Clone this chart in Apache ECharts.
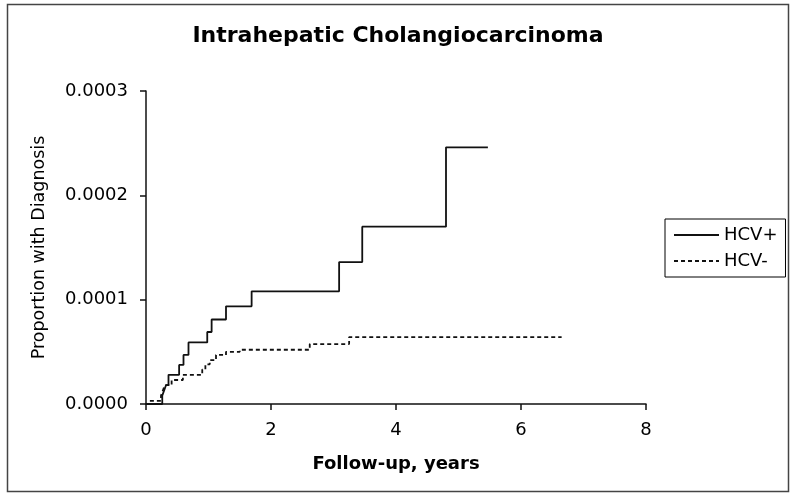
<!DOCTYPE html>
<html>
<head>
<meta charset="utf-8">
<script src="https://cdn.jsdelivr.net/npm/echarts@6/dist/echarts.min.js"></script>
<style>
html,body{margin:0;padding:0;background:#fff;}
#chart{width:796px;height:498px;}
</style>
</head>
<body>
<div id="chart"></div>
<script>
// Kaplan-Meier style step data (time in years, cumulative proportion)
const hcvPosTime  = [0, 0.26, 0.29, 0.32, 0.36, 0.53, 0.60, 0.68, 0.98, 1.05, 1.28, 1.69, 3.09, 3.46, 4.80, 5.47];
const hcvPosValue = [0, 0.000008, 0.000013, 0.000018, 0.000028, 0.0000375, 0.000047, 0.000059, 0.000069, 0.000081, 0.0000936, 0.000108, 0.000136, 0.000170, 0.000246, 0.000246];

const hcvNegTime  = [0, 0.05, 0.24, 0.27, 0.30, 0.41, 0.59, 0.90, 0.95, 1.02, 1.12, 1.28, 1.50, 2.62, 3.25, 6.65];
const hcvNegValue = [0, 0.000003, 0.000008, 0.000013, 0.000018, 0.000023, 0.000028, 0.000033, 0.000038, 0.000042, 0.000047, 0.000050, 0.000052, 0.0000574, 0.0000641, 0.0000641];

const seriesNames = ['HCV+', 'HCV-'];
const xTicks = [0, 2, 4, 6, 8];
const yTicks = [0, 0.0001, 0.0002, 0.0003];

const pair = (ts, vs) => ts.map((t, i) => [t, vs[i]]);

const chart = echarts.init(document.getElementById('chart'), null, {renderer: 'canvas'});
const font = 'DejaVu Sans';
chart.setOption({
  animation: false,
  backgroundColor: '#fff',
  title: {
    text: 'Intrahepatic Cholangiocarcinoma',
    left: 'center',
    top: 25,
    padding: 0,
    textStyle: {fontFamily: font, fontSize: 22, fontWeight: 'bold', color: '#000'}
  },
  graphic: [{
    type: 'rect',
    shape: {x: 7.5, y: 4.5, width: 781, height: 487},
    style: {fill: 'none', stroke: '#444', lineWidth: 1.5},
    silent: true, z: -1
  }],
  legend: {
    orient: 'vertical',
    left: 665,
    top: 219,
    padding: [7, 8, 7, 8],
    borderColor: '#000',
    borderWidth: 1,
    itemWidth: 45,
    itemHeight: 14,
    itemGap: 8,
    icon: 'inherit',
    itemStyle: {opacity: 0},
    data: seriesNames,
    textStyle: {fontFamily: font, fontSize: 18, color: '#000'}
  },
  grid: {left: 146, right: 150, top: 91, bottom: 94, containLabel: false},
  xAxis: {
    type: 'value',
    min: xTicks[0],
    max: xTicks[xTicks.length - 1],
    interval: 2,
    name: 'Follow-up, years',
    nameLocation: 'middle',
    nameGap: 51,
    nameTextStyle: {fontFamily: font, fontSize: 18, fontWeight: 'bold', color: '#000'},
    axisLine: {show: true, onZero: false, lineStyle: {color: '#111', width: 1.5}},
    axisTick: {show: true, length: 6, lineStyle: {color: '#111', width: 1.5}},
    axisLabel: {fontFamily: font, fontSize: 18, color: '#000', margin: 17},
    splitLine: {show: false}
  },
  yAxis: {
    type: 'value',
    min: yTicks[0],
    max: yTicks[yTicks.length - 1],
    interval: 0.0001,
    name: 'Proportion with Diagnosis',
    nameLocation: 'middle',
    nameGap: 98,
    nameTextStyle: {fontFamily: font, fontSize: 17.5, color: '#000'},
    axisLine: {show: true, lineStyle: {color: '#111', width: 1.5}},
    axisTick: {show: true, length: 6, lineStyle: {color: '#111', width: 1.5}},
    axisLabel: {fontFamily: font, fontSize: 18, color: '#000', margin: 18,
      formatter: v => v.toFixed(4)},
    splitLine: {show: false}
  },
  series: [
    {
      name: seriesNames[0],
      type: 'line',
      step: 'end',
      symbol: 'none',
      data: pair(hcvPosTime, hcvPosValue),
      lineStyle: {color: '#111', width: 1.8, type: 'solid'},
      itemStyle: {color: '#111'}
    },
    {
      name: seriesNames[1],
      type: 'line',
      step: 'end',
      symbol: 'none',
      data: pair(hcvNegTime, hcvNegValue),
      lineStyle: {color: '#111', width: 1.8, type: [4, 3]},
      itemStyle: {color: '#111'}
    }
  ]
});
</script>
</body>
</html>
